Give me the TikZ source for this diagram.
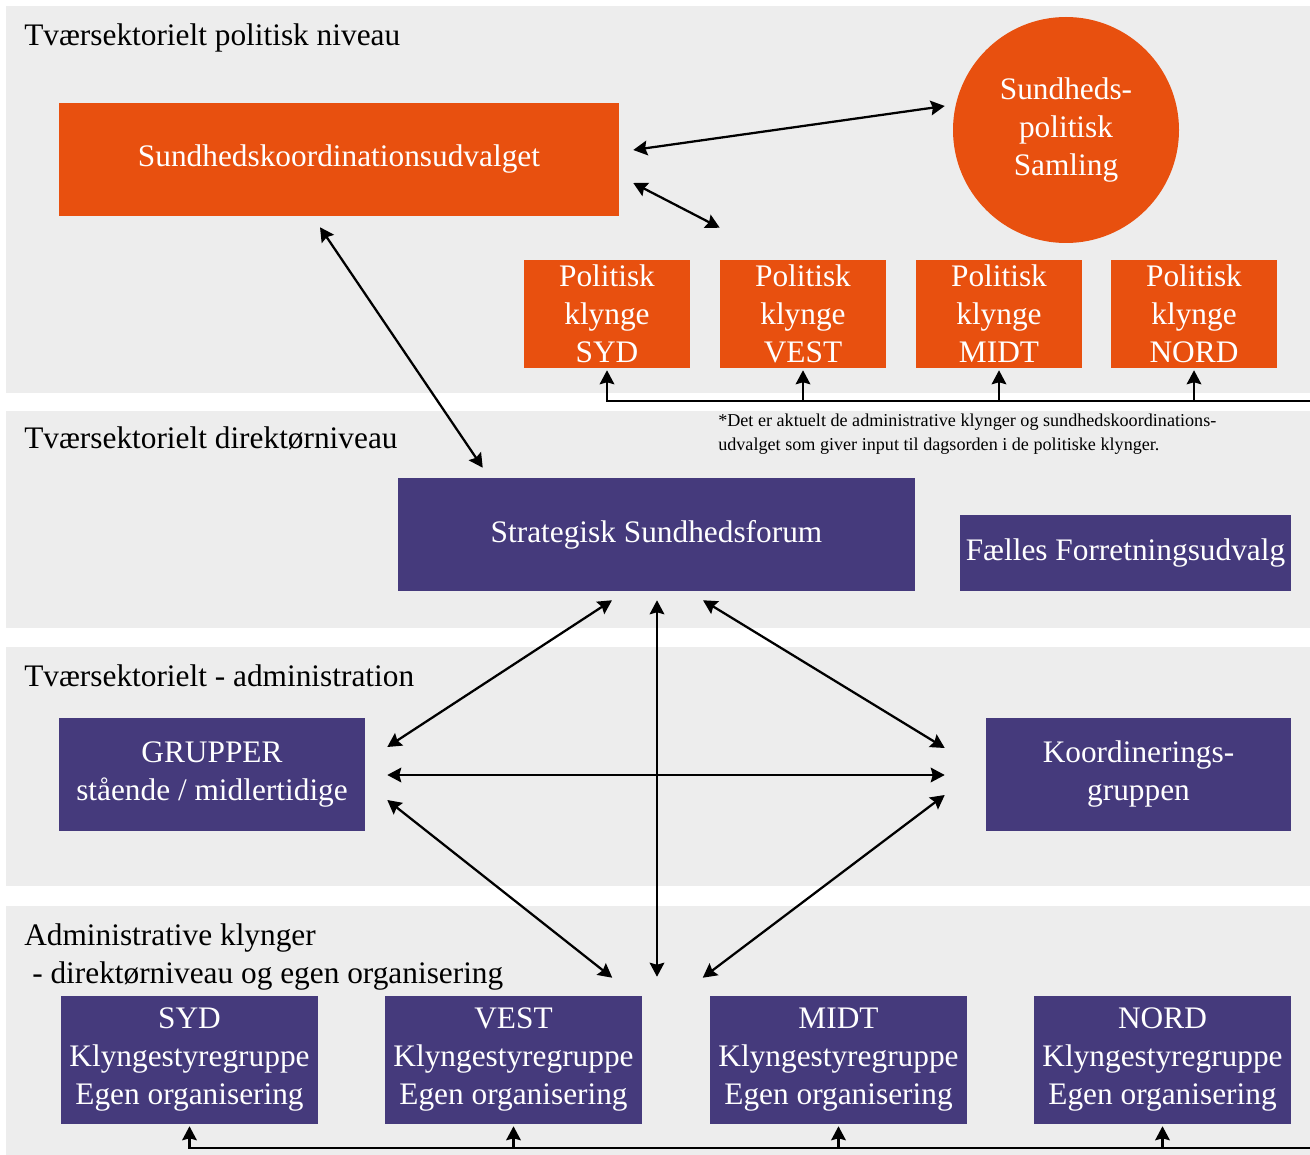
\documentclass[tikz,border=0pt]{standalone}
\usepackage{fontspec}
\setmainfont{Liberation Serif}
\usetikzlibrary{arrows.meta}
\definecolor{polorange}{HTML}{E8500F}
\definecolor{admpurple}{HTML}{453A7C}
\definecolor{bandgray}{HTML}{EDEDED}
\tikzset{
	pol/.style = {shape=rectangle, fill=polorange, text=white, align=center, inner sep=0pt, font=\fontsize{23.5}{28.5}\selectfont},
	adm/.style = {shape=rectangle, fill=admpurple, text=white, align=center, inner sep=0pt, font=\fontsize{23.5}{28.5}\selectfont},
	lvl/.style = {anchor=base west, inner sep=0pt, font=\fontsize{23.5}{28.5}\selectfont},
	band/.style = {fill=bandgray, draw=none}
}

\begin{document}
\begin{tikzpicture}[
    x=0.75pt,
    y=-0.75pt,
    >={Stealth[length=10.5pt, width=11pt, inset=1.5pt]},
 	edge_style/.style={
    	draw=black,
 		line width=1.7pt,
 		<->
 	},
 	bus_style/.style={
    	draw=black,
 		line width=1.7pt,
 		shorten >=1.5pt
 	}]
 		\useasboundingbox (0,0) rectangle (1310,1155);

 		% levels
 		\fill[band] (6,6) rectangle (1310,393);
 		\fill[band] (6,411) rectangle (1310,628);
 		\fill[band] (6,647) rectangle (1310,886);
 		\fill[band] (6,906) rectangle (1310,1155);

 		\node[lvl] (lvl1) at (24,46) {Tværsektorielt politisk niveau};
 		\node[lvl] (lvl2) at (24,449) {Tværsektorielt direktørniveau};
 		\node[lvl] (lvl3) at (24,686) {Tværsektorielt - administration};
 		\node[lvl] (lvl4) at (24,945) {Administrative klynger};
 		\node[lvl] (lvl4b) at (32,983) {- direktørniveau og egen organisering};

 		\node[anchor=north west, inner sep=0pt, align=left, font=\fontsize{13.6}{18}\selectfont] (note) at (718,414)
 			{*Det er aktuelt de administrative klynger og sundhedskoordinations-\\udvalget som giver input til dagsorden i de politiske klynger.};

 		% political level
 		\node[pol, minimum width=420pt, minimum height=84.75pt] (sk) at (339,159.5) {Sundhedskoordinationsudvalget};
 		\node[pol, circle, minimum size=169.5pt] (sam) at (1066,130) {Sundheds-\\politisk\\Samling};
 		\node[pol, minimum width=124.5pt, minimum height=81pt] (pk1) at (607,314) {Politisk\\klynge\\SYD};
 		\node[pol, minimum width=124.5pt, minimum height=81pt] (pk2) at (803,314) {Politisk\\klynge\\VEST};
 		\node[pol, minimum width=124.5pt, minimum height=81pt] (pk3) at (999,314) {Politisk\\klynge\\MIDT};
 		\node[pol, minimum width=124.5pt, minimum height=81pt] (pk4) at (1194,314) {Politisk\\klynge\\NORD};

 		% director level
 		\node[adm, minimum width=387.75pt, minimum height=84.75pt] (ssf) at (656.5,534.5) {Strategisk Sundhedsforum};
 		\node[adm, minimum width=248.25pt, minimum height=57pt] (ffu) at (1125.5,553) {Fælles Forretningsudvalg};

 		% administration
 		\node[adm, minimum width=229.5pt, minimum height=84.75pt] (grp) at (212,774.5) {GRUPPER\\stående / midlertidige};
 		\node[adm, minimum width=228.75pt, minimum height=84.75pt] (kg) at (1138.5,774.5) {Koordinerings-\\gruppen};

 		% clusters
 		\node[adm, minimum width=192.75pt, minimum height=96pt] (kl1) at (189.5,1060) {SYD\\Klyngestyregruppe\\Egen organisering};
 		\node[adm, minimum width=192.75pt, minimum height=96pt] (kl2) at (513.5,1060) {VEST\\Klyngestyregruppe\\Egen organisering};
 		\node[adm, minimum width=192.75pt, minimum height=96pt] (kl3) at (838.5,1060) {MIDT\\Klyngestyregruppe\\Egen organisering};
 		\node[adm, minimum width=192.75pt, minimum height=96pt] (kl4) at (1162.5,1060) {NORD\\Klyngestyregruppe\\Egen organisering};

 		\coordinate (bus1) at (1310,401);
 		\coordinate (bus2) at (1310,1148);

 		% connectors
 		\draw[edge_style] ([shift={(14,-9.5)}]sk.east) -- ([shift={(-8,-24)}]sam.west);
 		\draw[edge_style] ([shift={(14,23.5)}]sk.east) -- ([shift={(0,-32)}]pk2.north west);
 		\draw[edge_style] ([shift={(-19,11)}]sk.south) -- ([shift={(85,-10)}]ssf.north west);

 		\draw[edge_style] ([shift={(-44.5,9)}]ssf.south) -- ([shift={(22,-27.5)}]grp.east);
 		\draw[edge_style] ([shift={(0.5,9)}]ssf.south) -- ([shift={(0.5,-19)}]ssf.south |- kl2.north);
 		\draw[edge_style] ([shift={(46.5,9)}]ssf.south) -- ([shift={(-41,-26.5)}]kg.west);
 		\draw[edge_style] ([shift={(22,0.5)}]grp.east) -- ([shift={(-41,0.5)}]kg.west);
 		\draw[edge_style] ([shift={(22,25.5)}]grp.east) -- ([shift={(-30,-18)}]kl2.north east);
 		\draw[edge_style] ([shift={(-41,20.5)}]kg.west) -- ([shift={(-7,-18)}]kl3.north west);

 		\draw[bus_style, ->] (bus1) -| (pk1.south);
 		\draw[bus_style, ->] (pk2.south |- bus1) -- (pk2.south);
 		\draw[bus_style, ->] (pk3.south |- bus1) -- (pk3.south);
 		\draw[bus_style, ->] (pk4.south |- bus1) -- (pk4.south);

 		\draw[bus_style, ->] (bus2) -| (kl1.south);
 		\draw[bus_style, ->] (kl2.south |- bus2) -- (kl2.south);
 		\draw[bus_style, ->] (kl3.south |- bus2) -- (kl3.south);
 		\draw[bus_style, ->] (kl4.south |- bus2) -- (kl4.south);
 	\end{tikzpicture}
\end{document}
